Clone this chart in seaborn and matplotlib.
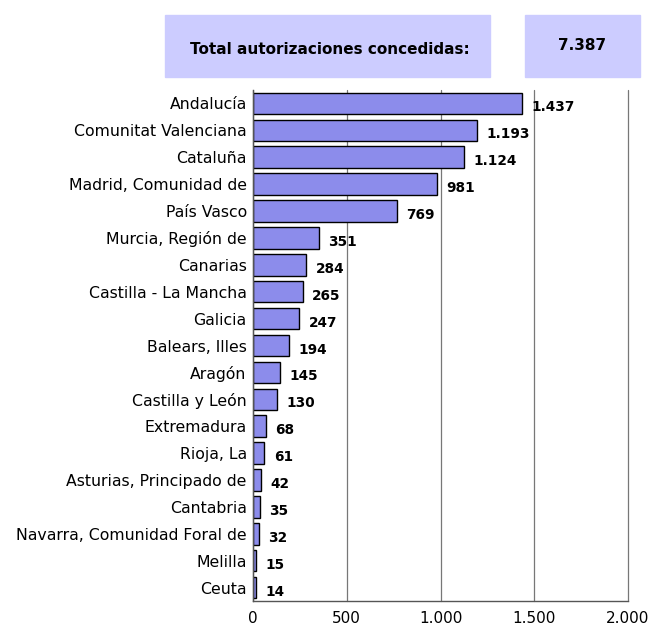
import matplotlib
matplotlib.use("Agg")
import matplotlib.pyplot as plt
import seaborn as sns
import pandas as pd
from matplotlib.patches import Rectangle

regions = [
    "Andalucía", "Comunitat Valenciana", "Cataluña", "Madrid, Comunidad de",
    "País Vasco", "Murcia, Región de", "Canarias", "Castilla - La Mancha",
    "Galicia", "Balears, Illes", "Aragón", "Castilla y León", "Extremadura",
    "Rioja, La", "Asturias, Principado de", "Cantabria",
    "Navarra, Comunidad Foral de", "Melilla", "Ceuta",
]
values = [1437, 1193, 1124, 981, 769, 351, 284, 265, 247, 194, 145, 130, 68,
          61, 42, 35, 32, 15, 14]
total_label = "Total autorizaciones concedidas:"
total_value = "7.387"
x_ticks = [0, 500, 1000, 1500, 2000]


def fmt(v):
    return f"{v:,}".replace(",", ".")


def main():
    sns.set_style("white")
    plt.rcParams["font.family"] = ["DejaVu Sans"]
    plt.rcParams["text.color"] = "black"
    plt.rcParams["xtick.color"] = "black"
    plt.rcParams["ytick.color"] = "black"

    df = pd.DataFrame({"region": regions, "value": values})

    fig = plt.figure(figsize=(6.49, 6.27), dpi=100)
    ax = fig.add_axes([253 / 649, 1 - 601 / 627, 375 / 649, 511 / 627])

    sns.barplot(data=df, y="region", x="value", orient="h", color="#8C8CEB",
                saturation=1, edgecolor="black", linewidth=1.0, width=0.8, ax=ax)

    ax.set_xlim(0, 2000)
    ax.set_xticks(x_ticks)
    ax.set_xticklabels([fmt(t) for t in x_ticks], fontsize=11)
    ax.set_xlabel("")
    ax.set_ylabel("")
    ax.tick_params(axis="y", labelsize=11.3, length=4, color="#555555", pad=0.5)
    ax.tick_params(axis="x", length=4, color="#555555", pad=3)
    ax.xaxis.grid(True, color="#777777", linewidth=0.9)
    for gl in ax.get_xgridlines():
        gl.set_clip_on(False)
    ax.set_axisbelow(True)
    for s in ["top", "right"]:
        ax.spines[s].set_visible(False)
    for s in ["left", "bottom"]:
        ax.spines[s].set_color("#555555")
        ax.spines[s].set_linewidth(1.0)

    for i, v in enumerate(values):
        ax.text(v + 50, i + 0.15, fmt(v), va="center", ha="left",
                fontsize=9.8, fontweight="bold")

    # header boxes
    fig.patches.append(Rectangle((165 / 649, 1 - 77 / 627), 325 / 649, 62 / 627,
                                 transform=fig.transFigure, color="#CCCCFF"))
    fig.patches.append(Rectangle((525 / 649, 1 - 77 / 627), 115 / 649, 62 / 627,
                                 transform=fig.transFigure, color="#CCCCFF"))
    fig.text(330 / 649, 1 - 50 / 627, total_label, ha="center", va="center",
             fontsize=11, fontweight="bold")
    fig.text(582 / 649, 1 - 46 / 627, total_value, ha="center", va="center",
             fontsize=11, fontweight="bold")

    fig.savefig("out.png", dpi=100)
    plt.close(fig)


if __name__ == "__main__":
    main()
